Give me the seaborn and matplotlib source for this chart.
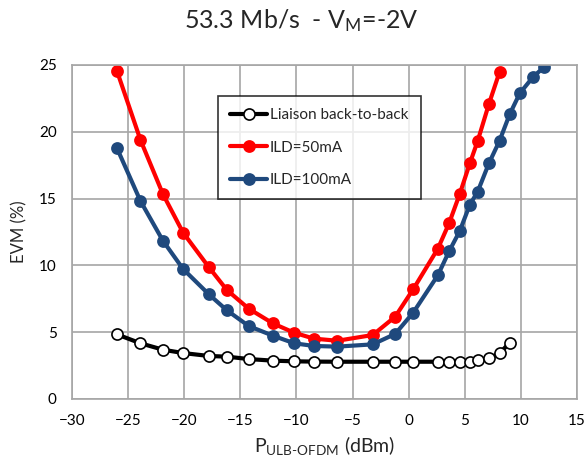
import numpy as np
import pandas as pd
import matplotlib
matplotlib.use("Agg")
import matplotlib.pyplot as plt
import seaborn as sns

# Optical power (dBm) and EVM (%) for each configuration
p_b2b = [-26.0, -23.9, -21.9, -20.1, -17.8, -16.2, -14.25, -12.1, -10.2, -8.45,
         -6.35, -3.2, -1.2, 0.4, 2.6, 3.6, 4.55, 5.45, 6.15, 7.15, 8.1, 9.0]
evm_b2b = [4.84, 4.17, 3.69, 3.44, 3.22, 3.17, 2.99, 2.87, 2.82, 2.8,
           2.79, 2.79, 2.79, 2.79, 2.79, 2.79, 2.79, 2.8, 2.9, 3.04, 3.42, 4.21]

p_50 = [-26.0, -23.9, -21.9, -20.1, -17.8, -16.2, -14.25, -12.1, -10.2, -8.45,
        -6.35, -3.2, -1.2, 0.4, 2.6, 3.6, 4.55, 5.45, 6.15, 7.15, 8.1]
evm_50 = [24.57, 19.39, 15.34, 12.45, 9.86, 8.16, 6.76, 5.66, 4.96, 4.52,
          4.36, 4.79, 6.16, 8.21, 11.25, 13.15, 15.34, 17.64, 19.31, 22.08, 24.48]

p_100 = [-26.0, -23.9, -21.9, -20.1, -17.8, -16.2, -14.25, -12.1, -10.2, -8.45,
         -6.35, -3.2, -1.2, 0.4, 2.6, 3.6, 4.55, 5.45, 6.15, 7.15, 8.1, 9.0,
         9.9, 11.1, 12.05]
evm_100 = [18.79, 14.82, 11.85, 9.73, 7.83, 6.64, 5.46, 4.74, 4.17, 3.97,
           3.92, 4.09, 4.87, 6.46, 9.26, 11.05, 12.57, 14.54, 15.52, 17.64, 19.33, 21.31,
           22.88, 24.12, 24.83]

x_ticks = [-30, -25, -20, -15, -10, -5, 0, 5, 10, 15]
y_ticks = [0, 5, 10, 15, 20, 25]

sns.set_style("white")
plt.rcParams["font.family"] = ["Lato", "DejaVu Sans"]
plt.rcParams["mathtext.fontset"] = "custom"
plt.rcParams["mathtext.rm"] = "Lato"
plt.rcParams["mathtext.default"] = "regular"

fig = plt.figure(figsize=(5.86, 4.67), dpi=100)
ax = fig.add_axes([72 / 586, 1 - 399 / 467, 505 / 586, 334 / 467])

grid_c = "#A6A6A6"
ax.set_axisbelow(True)
ax.grid(True, color=grid_c, linewidth=1.2)

series = [
    (p_b2b, evm_b2b, "Liaison back-to-back", "black", "white"),
    (p_50, evm_50, "ILD=50mA", "#FF0000", "#FF0000"),
    (p_100, evm_100, "ILD=100mA", "#1F497D", "#1F497D"),
]
for xs, ys, name, col, face in series:
    df = pd.DataFrame({"P": xs, "EVM": ys})
    sns.lineplot(data=df, x="P", y="EVM", ax=ax, sort=False, color=col,
                 linewidth=3, marker="o", markersize=8, markerfacecolor=face,
                 markeredgecolor=col, markeredgewidth=1.2, label=name)

ax.set_xlim(-30, 15)
ax.set_ylim(0, 25)
ax.set_xticks(x_ticks)
ax.set_yticks(y_ticks)
ax.tick_params(axis="both", direction="out", length=5, width=1.2, color=grid_c,
               labelsize=11, labelcolor="black", pad=6)
for s in ax.spines.values():
    s.set_visible(True)
    s.set_color(grid_c)
    s.set_linewidth(1.2)

ax.set_xlabel("P$_{ULB\\text{-}OFDM}$ (dBm)", fontsize=14, labelpad=4)
ax.set_ylabel("EVM (%)", fontsize=12, labelpad=8)

fig.text(0.515, 0.955, "53.3 Mb/s  - V$_M$=-2V", ha="center", va="center",
         fontsize=18)

leg = ax.legend(loc="upper left", bbox_to_anchor=(0.289, 0.907), frameon=True,
                fancybox=False, edgecolor="black", fontsize=11,
                handlelength=2.4, handletextpad=0.2, labelspacing=1.2,
                borderpad=0.8, borderaxespad=0)
leg.get_frame().set_linewidth(1.2)

fig.savefig("out.png", dpi=100)
